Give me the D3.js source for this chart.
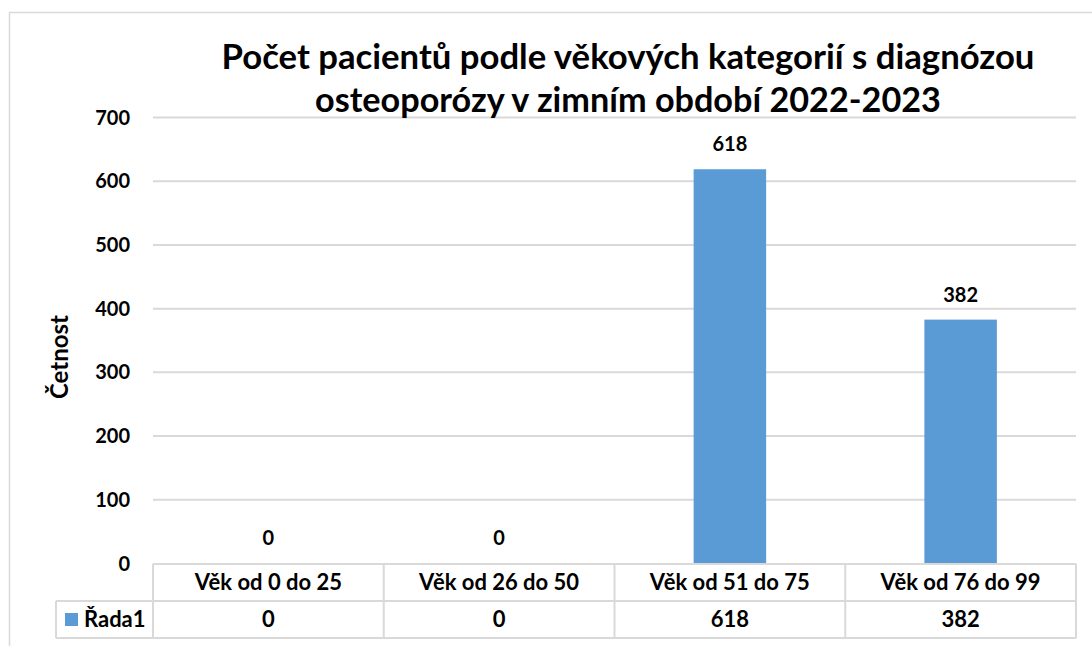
<!DOCTYPE html>
<html>
<head>
<meta charset="utf-8">
<script src="https://cdn.jsdelivr.net/npm/d3@7"></script>
<style>
  body { margin: 0; background: #fff; }
  text { font-family: Lato, Carlito, Calibri, sans-serif; font-weight: bold; fill: #000; }
</style>
</head>
<body>
<svg id="chart"></svg>
<script>
// data
var categories = ["Věk od 0 do 25", "Věk od 26 do 50", "Věk od 51 do 75", "Věk od 76 do 99"];
var values = [0, 0, 618, 382];
var seriesName = "Řada1";
var yTicks = [0, 100, 200, 300, 400, 500, 600, 700];
var titleLines = ["Počet pacientů podle věkových kategorií s diagnózou", "osteoporózy v zimním období 2022-2023"];
var yTitle = "Četnost";

var W = 1092, H = 646;
var plotL = 153, plotR = 1076, plotT = 117, plotB = 564;
var rowH = 37;
var grid = "#d9d9d9";

var svg = d3.select("#chart").attr("width", W).attr("height", H);

// outer chart border
svg.append("rect").attr("x", 9.5).attr("y", 12.5).attr("width", 1100).attr("height", 700)
  .attr("fill", "none").attr("stroke", grid).attr("stroke-width", 1.5);

var y = d3.scaleLinear().domain([0, 700]).range([plotB - 1, plotT]);
var x = d3.scaleBand().domain(categories).range([plotL, plotR]).padding(0);

// scale text so it fills the same width as the original
function fit(sel, target) {
  sel.each(function () {
    var t = d3.select(this);
    var fs = parseFloat(t.style("font-size"));
    var w = this.getComputedTextLength();
    t.style("font-size", (fs * target / w) + "px");
  });
}

// gridlines
svg.append("g")
  .attr("transform", "translate(" + plotL + ",0)")
  .call(d3.axisLeft(y).tickValues(yTicks.slice(1)).tickSize(-(plotR - plotL)).tickFormat(""))
  .call(function (g) { g.select(".domain").remove(); })
  .selectAll("line").attr("stroke", grid).attr("stroke-width", 2);

// y tick labels
svg.append("g")
  .attr("transform", "translate(130,0)")
  .call(d3.axisLeft(y).tickValues(yTicks).tickSize(0).tickPadding(0))
  .call(function (g) { g.select(".domain").remove(); })
  .selectAll("text").style("font-size", "20px").attr("dy", "0.35em")
  .style("font-family", null).style("font-weight", null);
svg.selectAll(".tick text").attr("font-family", null).attr("font-size", null);

// bars
var bw = 72.5;
svg.append("g").selectAll("rect").data(values).join("rect")
  .attr("x", function (d, i) { return x(categories[i]) + x.bandwidth() / 2 - bw / 2; })
  .attr("y", function (d) { return y(d); })
  .attr("width", bw)
  .attr("height", function (d) { return y(0) - y(d); })
  .attr("fill", "#5b9bd5");

// data labels
svg.append("g").selectAll("text").data(values).join("text")
  .attr("x", function (d, i) { return x(categories[i]) + x.bandwidth() / 2; })
  .attr("y", function (d) { return y(d) - 25; })
  .attr("text-anchor", "middle")
  .attr("dy", "0.35em")
  .style("font-size", "20px")
  .text(function (d) { return d; });

// data table
var tbl = svg.append("g").attr("stroke", grid).attr("stroke-width", 2).attr("fill", "none");
tbl.append("line").attr("x1", plotL).attr("x2", plotR).attr("y1", plotB).attr("y2", plotB);
tbl.append("line").attr("x1", 56).attr("x2", plotR).attr("y1", plotB + rowH).attr("y2", plotB + rowH);
tbl.append("line").attr("x1", 56).attr("x2", plotR).attr("y1", plotB + 2 * rowH).attr("y2", plotB + 2 * rowH);
tbl.append("line").attr("x1", 56).attr("x2", 56).attr("y1", plotB + rowH).attr("y2", plotB + 2 * rowH);
tbl.selectAll(".v").data(categories.concat(["end"])).join("line")
  .attr("x1", function (d, i) { return plotL + i * x.step(); })
  .attr("x2", function (d, i) { return plotL + i * x.step(); })
  .attr("y1", plotB).attr("y2", plotB + 2 * rowH);

svg.append("g").selectAll("text").data(categories).join("text")
  .attr("x", function (d) { return x(d) + x.bandwidth() / 2; })
  .attr("y", plotB + rowH / 2)
  .attr("dy", "0.35em")
  .attr("text-anchor", "middle")
  .style("font-size", "22px")
  .text(function (d) { return d; });

svg.append("g").selectAll("text").data(values).join("text")
  .attr("x", function (d, i) { return x(categories[i]) + x.bandwidth() / 2; })
  .attr("y", plotB + rowH * 1.5)
  .attr("dy", "0.35em")
  .attr("text-anchor", "middle")
  .style("font-size", "22px")
  .text(function (d) { return d; });

// legend key inside table
svg.append("rect").attr("x", 65).attr("y", plotB + rowH * 1.5 - 6.5).attr("width", 13).attr("height", 13).attr("fill", "#5b9bd5");
svg.append("text").attr("x", 84).attr("y", plotB + rowH * 1.5).attr("dy", "0.35em")
  .style("font-size", "22px").text(seriesName);

// y axis title
svg.append("text")
  .attr("transform", "translate(60,357) rotate(-90)")
  .attr("text-anchor", "middle")
  .attr("dy", "0.35em")
  .style("font-size", "24px")
  .text(yTitle);

// title
var tt = svg.append("g").selectAll("text").data(titleLines).join("text")
  .attr("x", 628)
  .attr("y", function (d, i) { return 69 + i * 43; })
  .attr("text-anchor", "middle")
  .style("font-size", "30px")
  .text(function (d) { return d; });
fit(tt.filter(function (d, i) { return i === 0; }), 813);
fit(tt.filter(function (d, i) { return i === 1; }), 626);
</script>
</body>
</html>
